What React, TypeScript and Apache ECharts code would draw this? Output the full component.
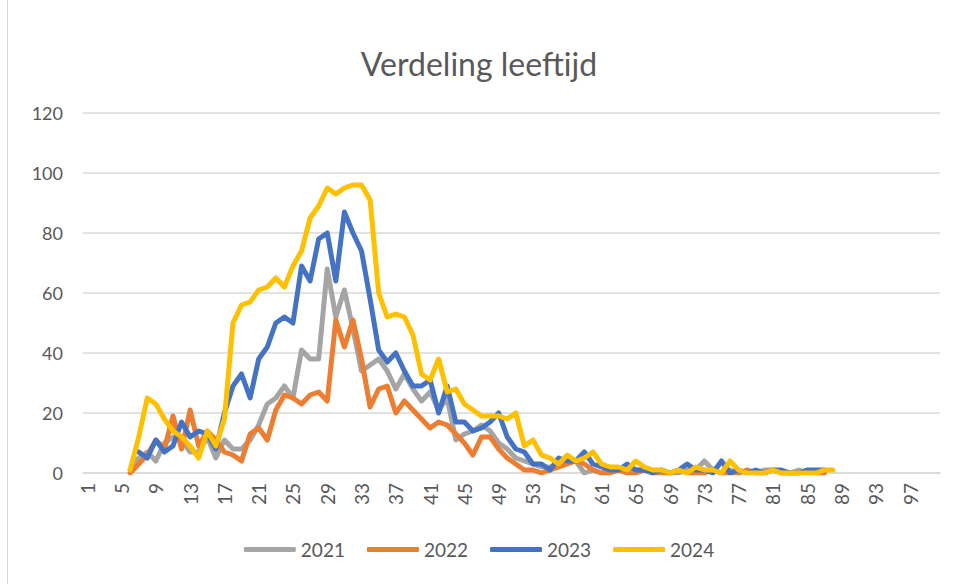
import React, { useEffect, useRef } from "react";
import * as echarts from "echarts";

const ages: string[] = Array.from({ length: 100 }, (_, i) => String(i + 1));

const seriesNames = ["2021", "2022", "2023", "2024"];
const seriesColors = ["#A5A5A5", "#ED7D31", "#4472C4", "#FFC000"];

// values for ages 6..88 (null = no value)
const v2021: (number | null)[] = [1, 5, 7, 4, 10, 12, 11, 7, 7, 12, 5, 11, 8, 8, 11, 16, 23, 25, 29, 25, 41, 38, 38, 68, 52, 61, 48, 34, 36, 38, 34, 28, 33, 28, 24, 27, 21, 25, 11, 13, 14, 16, 14, 10, 8, 5, 4, 3, 2, 2, 3, 5, 4, 0, 1, 0, 1, 1, 0, 1, 1, 0, 1, 0, 0, 1, 1, 4, 1, 0, 1, 0, 1, 0, 1, 1, 0, 0, 1, 0, 1, 0];
const v2022: (number | null)[] = [0, 3, 6, 11, 8, 19, 8, 21, 9, 14, 11, 7, 6, 4, 13, 15, 11, 21, 26, 25, 23, 26, 27, 24, 51, 42, 51, 38, 22, 28, 29, 20, 24, 21, 18, 15, 17, 16, 13, 10, 6, 12, 12, 8, 5, 3, 1, 1, 0, 1, 2, 3, 4, 3, 1, 0, 0, 1, 0, 0, 1, 0, 0, 0, 1, 0, 0, 0, 1, 0, 0, 0, 1, 0, 0, 1, 0, 0, 0, 1, 0, 0];
const v2023: (number | null)[] = [null, 7, 5, 11, 7, 9, 17, 12, 14, 13, 8, 20, 29, 33, 25, 38, 42, 50, 52, 50, 69, 64, 78, 80, 64, 87, 80, 74, 58, 41, 37, 40, 34, 29, 29, 31, 20, 29, 17, 17, 14, 15, 17, 20, 12, 8, 7, 3, 3, 1, 5, 4, 4, 7, 3, 2, 1, 1, 3, 1, 1, 0, 1, 0, 1, 3, 1, 1, 0, 4, 0, 1, 0, 1, 0, 1, 1, 0, 0, 1, 1, 1];
const v2024: (number | null)[] = [1, 12, 25, 23, 18, 14, 12, 9, 5, 14, 9, 18, 50, 56, 57, 61, 62, 65, 62, 69, 74, 85, 89, 95, 93, 95, 96, 96, 91, 60, 52, 53, 52, 46, 33, 31, 38, 27, 28, 23, 21, 19, 19, 19, 18, 20, 9, 11, 6, 5, 3, 6, 4, 5, 7, 3, 2, 2, 1, 4, 2, 1, 1, 0, 1, 0, 2, 1, 1, 0, 4, 1, 0, 0, 0, 1, 0, 0, 0, 0, 0, 1, 1];

const firstAge = 6;
const yTicks = [0, 20, 40, 60, 80, 100, 120];

function place(vals: (number | null)[]): (number | null)[] {
  const out: (number | null)[] = ages.map(() => null);
  vals.forEach((v, k) => {
    out[firstAge - 1 + k] = v;
  });
  return out;
}

const FONT = "Lato, 'Open Sans', sans-serif";

export default function App() {
  const ref = useRef<HTMLDivElement>(null);
  useEffect(() => {
    if (!ref.current) return;
    const chart = echarts.init(ref.current, undefined, { renderer: "svg" });
    const all = [v2021, v2022, v2023, v2024];
    chart.setOption({
      animation: false,
      backgroundColor: "#ffffff",
      title: {
        text: "Verdeling leeftijd",
        left: "center",
        top: 42,
        textStyle: { fontFamily: FONT, fontSize: 32, fontWeight: "normal", color: "#595959" },
      },
      legend: {
        bottom: 20,
        left: "center",
        itemWidth: 52,
        itemHeight: 5,
        itemGap: 22,
        icon: "roundRect",
        textStyle: { fontFamily: FONT, fontSize: 19, color: "#595959" },
        data: seriesNames,
      },
      grid: { left: 83, right: 18, top: 113, bottom: 111, containLabel: false },
      xAxis: {
        type: "category",
        data: ages,
        boundaryGap: true,
        axisLine: { lineStyle: { color: "#d9d9d9", width: 1.5 } },
        axisTick: { show: false },
        axisLabel: {
          interval: 3,
          rotate: 90,
          margin: 10,
          fontFamily: FONT,
          fontSize: 19,
          color: "#595959",
        },
      },
      yAxis: {
        type: "value",
        min: yTicks[0],
        max: yTicks[yTicks.length - 1],
        interval: 20,
        axisLine: { show: false },
        axisTick: { show: false },
        splitLine: { lineStyle: { color: "#d9d9d9", width: 1.5 } },
        axisLabel: { fontFamily: FONT, fontSize: 18, color: "#595959", margin: 20 },
      },
      series: seriesNames.map((name, k) => ({
        name,
        type: "line",
        data: place(all[k]),
        showSymbol: false,
        symbol: "none",
        connectNulls: false,
        lineStyle: { color: seriesColors[k], width: 5, cap: "round", join: "round" },
        itemStyle: { color: seriesColors[k] },
      })),
      graphic: [
        {
          type: "line",
          shape: { x1: 7.5, y1: 0, x2: 7.5, y2: 584 },
          style: { stroke: "#d9d9d9", lineWidth: 1 },
        },
      ],
    });
    return () => chart.dispose();
  }, []);
  return (
    <div
      ref={ref}
      style={{ position: "fixed", left: 0, top: 0, width: 958, height: 584 }}
    />
  );
}
